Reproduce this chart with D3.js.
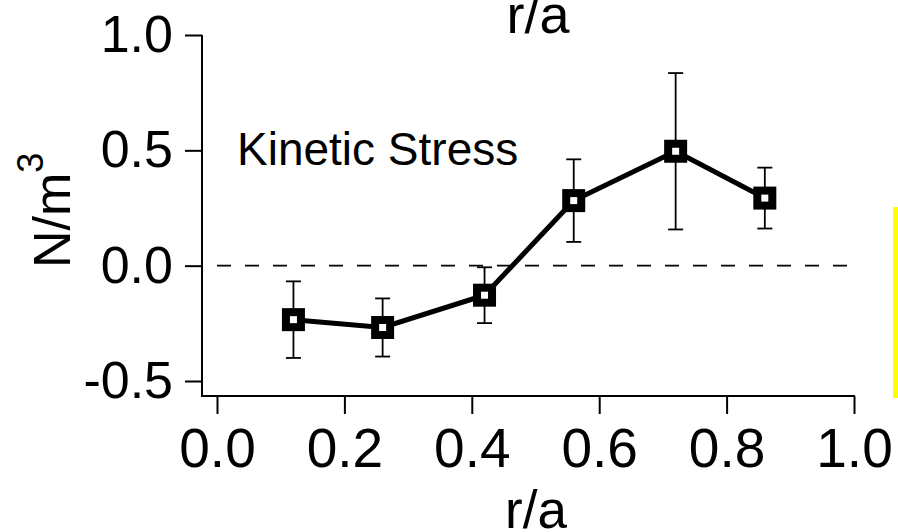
<!DOCTYPE html>
<html>
<head>
<meta charset="utf-8">
<script src="https://cdn.jsdelivr.net/npm/d3@7"></script>
<style>
  html, body { margin: 0; padding: 0; background: #fff; }
  svg { display: block; font-family: "Liberation Sans", Arial, Helvetica, sans-serif; }
</style>
</head>
<body>
<script>
// Radial profile of the kinetic stress (N/m^3) versus normalised radius r/a
const radius = [0.12, 0.26, 0.42, 0.56, 0.72, 0.86];
const stress = [-0.234, -0.268, -0.128, 0.282, 0.496, 0.293];
const stressErr = [0.166, 0.126, 0.121, 0.179, 0.339, 0.132];
const xTicks = [0.0, 0.2, 0.4, 0.6, 0.8, 1.0];
const xTickLabels = ["0.0", "0.2", "0.4", "0.6", "0.8", "1.0"];
const yTicks = [-0.5, 0.0, 0.5, 1.0];
const yTickLabels = ["-0.5", "0.0", "0.5", "1.0"];

const W = 898, H = 532;
const svg = d3.select("body").append("svg").attr("width", W).attr("height", H);

const x = d3.scaleLinear().domain([0, 1]).range([217, 854]);
const y = d3.scaleLinear().domain([-0.565, 1.0]).range([396, 35]);
const axisLeftX = 202, axisBottomY = 396;

// x label of the panel above, running off the top edge
svg.append("text")
  .attr("x", 538).attr("y", 33)
  .attr("text-anchor", "middle")
  .attr("font-size", 54)
  .text("r/a");

// zero reference line
svg.append("line")
  .attr("x1", x(0)).attr("x2", 847)
  .attr("y1", y(0)).attr("y2", y(0))
  .attr("stroke", "#000").attr("stroke-width", 1.6)
  .attr("stroke-dasharray", "14,14");

// y axis
const yAxis = svg.append("g")
  .attr("transform", `translate(${axisLeftX},0)`)
  .call(d3.axisLeft(y).tickValues(yTicks)
    .tickFormat((d, i) => yTickLabels[i])
    .tickSize(17).tickPadding(12).tickSizeOuter(0));
yAxis.select(".domain").remove();
yAxis.append("line")
  .attr("x1", 0).attr("x2", 0).attr("y1", y(1.0)).attr("y2", axisBottomY + 1)
  .attr("stroke", "#000").attr("stroke-width", 2);
yAxis.selectAll(".tick line").attr("stroke-width", 2);
yAxis.selectAll(".tick text").attr("font-size", 52).attr("fill", "#000")
  .attr("font-family", "Liberation Sans, Arial, sans-serif");

// x axis
const xAxis = svg.append("g")
  .attr("transform", `translate(0,${axisBottomY})`)
  .call(d3.axisBottom(x).tickValues(xTicks)
    .tickFormat((d, i) => xTickLabels[i])
    .tickSize(18).tickPadding(14).tickSizeOuter(0));
xAxis.select(".domain").remove();
xAxis.append("line")
  .attr("x1", axisLeftX - 1).attr("x2", x(1.0) + 1).attr("y1", 0).attr("y2", 0)
  .attr("stroke", "#000").attr("stroke-width", 2);
xAxis.selectAll(".tick line").attr("stroke-width", 2);
xAxis.selectAll(".tick text").attr("font-size", 55).attr("fill", "#000")
  .attr("font-family", "Liberation Sans, Arial, sans-serif");

// axis titles
svg.append("text")
  .attr("x", 536).attr("y", 528)
  .attr("text-anchor", "middle")
  .attr("font-size", 53)
  .text("r/a");

const yTitle = svg.append("text")
  .attr("transform", "translate(70,268) rotate(-90)")
  .attr("font-size", 52);
yTitle.append("tspan").text("N/m");
yTitle.append("tspan").attr("font-size", 36).attr("dy", -27).text("3");

// annotation
svg.append("text")
  .attr("x", 237).attr("y", 165)
  .attr("font-size", 46)
  .text("Kinetic Stress");

const pts = radius.map((r, i) => ({ r, v: stress[i], e: stressErr[i] }));

// error bars
const eb = svg.append("g").attr("stroke", "#000").attr("stroke-width", 1.8);
eb.selectAll("line.v").data(pts).join("line")
  .attr("x1", d => x(d.r)).attr("x2", d => x(d.r))
  .attr("y1", d => y(d.v + d.e)).attr("y2", d => y(d.v - d.e));
eb.selectAll("line.t").data(pts).join("line")
  .attr("x1", d => x(d.r) - 7.5).attr("x2", d => x(d.r) + 7.5)
  .attr("y1", d => y(d.v + d.e)).attr("y2", d => y(d.v + d.e));
eb.selectAll("line.b").data(pts).join("line")
  .attr("x1", d => x(d.r) - 7.5).attr("x2", d => x(d.r) + 7.5)
  .attr("y1", d => y(d.v - d.e)).attr("y2", d => y(d.v - d.e));

// profile line
svg.append("path")
  .datum(pts)
  .attr("fill", "none").attr("stroke", "#000").attr("stroke-width", 5)
  .attr("stroke-linejoin", "miter")
  .attr("d", d3.line().x(d => x(d.r)).y(d => y(d.v)));

// square markers
const ms = 15;
svg.append("g").selectAll("rect").data(pts).join("rect")
  .attr("x", d => x(d.r) - ms / 2).attr("y", d => y(d.v) - ms / 2)
  .attr("width", ms).attr("height", ms)
  .attr("fill", "#fff").attr("stroke", "#000").attr("stroke-width", 8);

// yellow marker bar at right edge
svg.append("rect")
  .attr("x", 893).attr("y", 207).attr("width", 5).attr("height", 191)
  .attr("fill", "#ffff00");
</script>
</body>
</html>
